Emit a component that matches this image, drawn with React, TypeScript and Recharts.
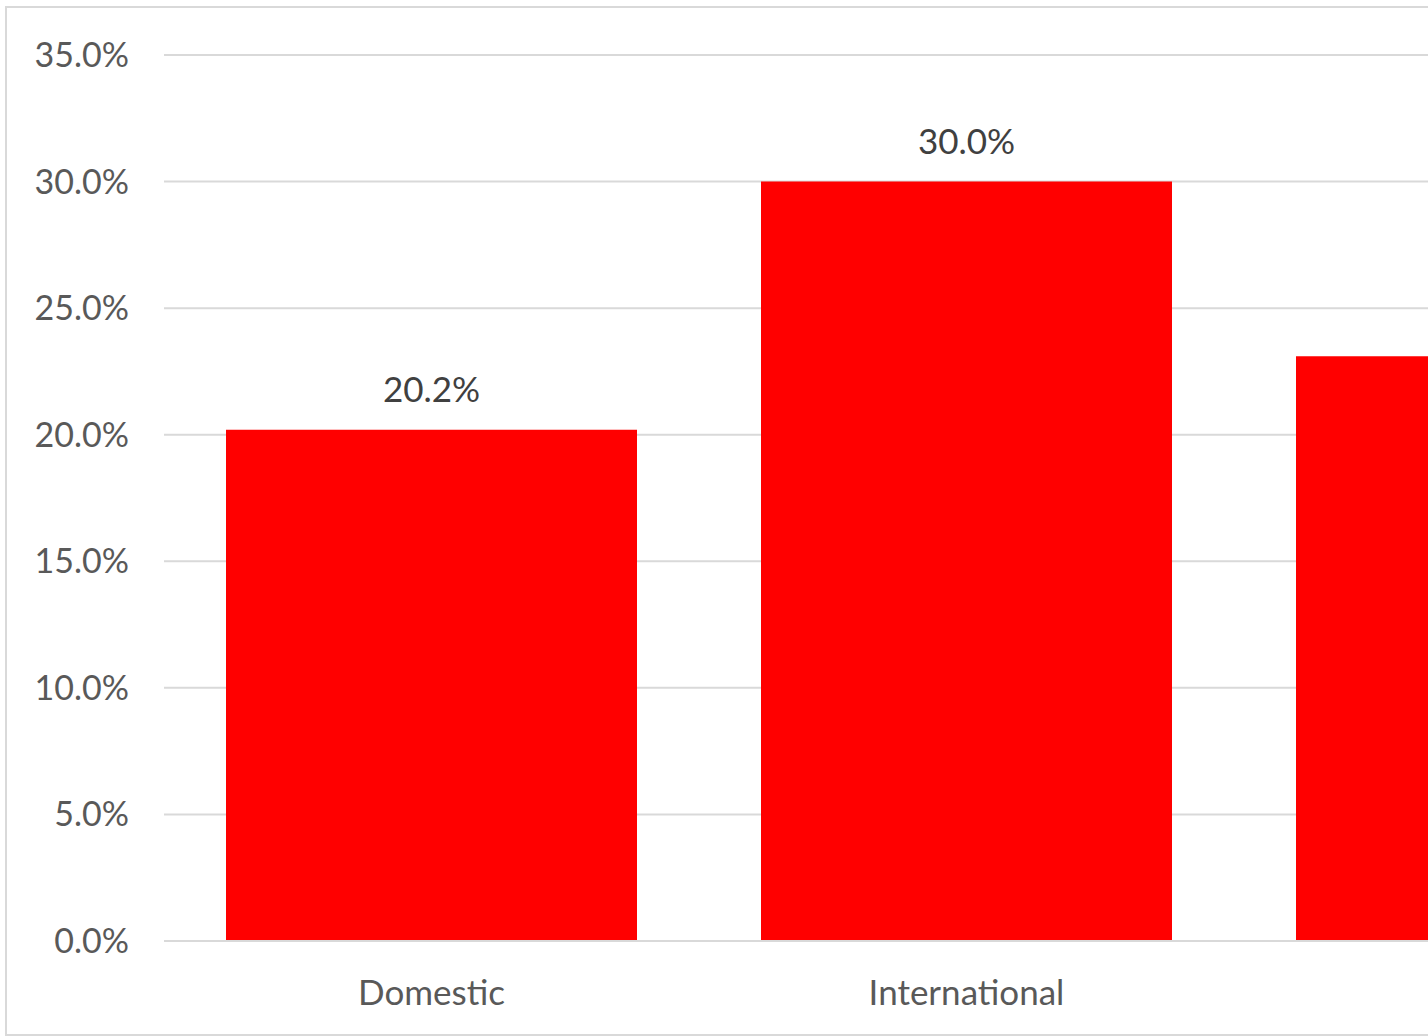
import React from "react";
import { BarChart, Bar, XAxis, YAxis, CartesianGrid, LabelList } from "recharts";

const categories = ["Domestic", "International", "Total"];
const shares = [20.2, 30.0, 23.1];
const yTicks = [0, 5, 10, 15, 20, 25, 30, 35];

const data = categories.map((name, i) => ({ name, value: shares[i] }));

const FONT = "Lato, 'Open Sans', sans-serif";
const fmt = (v: number) => `${Number(v).toFixed(1)}%`;

export default function App() {
  return (
    <div style={{ position: "absolute", left: 0, top: 0, width: 1428, height: 1036, overflow: "hidden", background: "#fff" }}>
      <div style={{ position: "absolute", left: 5, top: 6, border: "2px solid #d9d9d9", background: "#fff" }}>
        <BarChart
          width={1780}
          height={1026}
          data={data}
          margin={{ top: 47, right: 18, bottom: 33, left: 0 }}
          barSize={411}
        >
          <CartesianGrid vertical={false} stroke="#d9d9d9" strokeWidth={2} />
          <XAxis
            dataKey="name"
            axisLine={{ stroke: "#d9d9d9", strokeWidth: 2 }}
            tickLine={false}
            tickSize={0}
            tickMargin={39}
            height={60}
            tick={{ fill: "#595959", fontSize: 35, fontFamily: FONT }}
          />
          <YAxis
            domain={[0, 35]}
            ticks={yTicks}
            tickFormatter={fmt}
            axisLine={false}
            tickLine={false}
            tickSize={0}
            tickMargin={35}
            width={157}
            tick={{ fill: "#595959", fontSize: 34, fontFamily: FONT }}
          />
          <Bar dataKey="value" fill="#ff0000" isAnimationActive={false}>
            <LabelList
              dataKey="value"
              position="top"
              offset={28}
              formatter={fmt}
              fill="#404040"
              fontSize={35}
              fontFamily={FONT}
            />
          </Bar>
        </BarChart>
      </div>
    </div>
  );
}
